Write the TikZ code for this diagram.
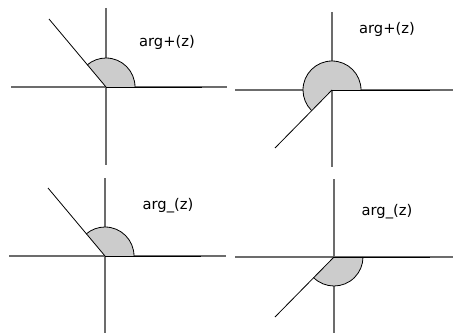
\documentclass[tikz,border=0pt]{standalone}
\usepackage{fontspec}
\setmainfont{DejaVu Sans}
\usepackage{tikz}

\begin{document}
\begin{tikzpicture}[x=1pt, y=1pt,
  axis/.style={draw=gray!85!black, line width=1.1pt},
  ray/.style={draw=black, line width=0.8pt},
  sector/.style={fill=gray!40, draw=black, line width=0.8pt},
  lab/.style={anchor=base, inner sep=0pt, font=\fontsize{14.7}{17}\selectfont},
]
  \useasboundingbox (0,0) rectangle (453,333);

  % top left: arg+ of a point in the second quadrant
  \coordinate (o1) at (106,246);
  \coordinate (r1) at (49,314);
  \coordinate (p1) at (202,246);
  \draw[axis] (11,246) -- (227,246);
  \draw[axis] (106,325) -- (106,168);
  \fill[gray!40] (o1) -- ++(0:29) arc[start angle=0, end angle=130, radius=29] -- cycle;
  \draw[ray] (o1) ++(0:29) arc[start angle=0, end angle=130, radius=29];
  \draw[ray] (o1) -- (r1);
  \draw[ray] (o1) -- (p1);
  \node[lab] (l1) at (167,287) {arg+(z)};

  % top right: arg+ of a point in the third quadrant
  \coordinate (o2) at (332,243);
  \coordinate (r2) at (275,185);
  \coordinate (p2) at (430,243);
  \draw[axis] (235,243) -- (453,243);
  \draw[axis] (332,321) -- (332,166);
  \fill[gray!40] (o2) -- ++(0:29) arc[start angle=0, end angle=225, radius=29] -- cycle;
  \draw[ray] (o2) ++(0:29) arc[start angle=0, end angle=225, radius=29];
  \draw[ray] (o2) -- (r2);
  \draw[ray] (o2) -- (p2);
  \node[lab] (l2) at (387,300) {arg+(z)};

  % bottom left: arg_ of a point in the second quadrant
  \coordinate (o3) at (105,77);
  \coordinate (r3) at (48,145);
  \coordinate (p3) at (201,77);
  \draw[axis] (9,77) -- (226,77);
  \draw[axis] (105,155) -- (105,0);
  \fill[gray!40] (o3) -- ++(0:29) arc[start angle=0, end angle=130, radius=29] -- cycle;
  \draw[ray] (o3) ++(0:29) arc[start angle=0, end angle=130, radius=29];
  \draw[ray] (o3) -- (r3);
  \draw[ray] (o3) -- (p3);
  \node[lab] (l3) at (168,124) {arg\_(z)};

  % bottom right: arg_ of a point in the third quadrant
  \coordinate (o4) at (334,76);
  \coordinate (r4) at (275,16);
  \coordinate (p4) at (430,76);
  \draw[axis] (235,76) -- (453,76);
  \draw[axis] (334,154) -- (334,0);
  \fill[gray!40] (o4) -- ++(225:29) arc[start angle=225, end angle=360, radius=29] -- cycle;
  \draw[ray] (o4) ++(225:29) arc[start angle=225, end angle=360, radius=29];
  \draw[ray] (o4) -- (r4);
  \draw[ray] (o4) -- (p4);
  \node[lab] (l4) at (387,118) {arg\_(z)};
\end{tikzpicture}
\end{document}
